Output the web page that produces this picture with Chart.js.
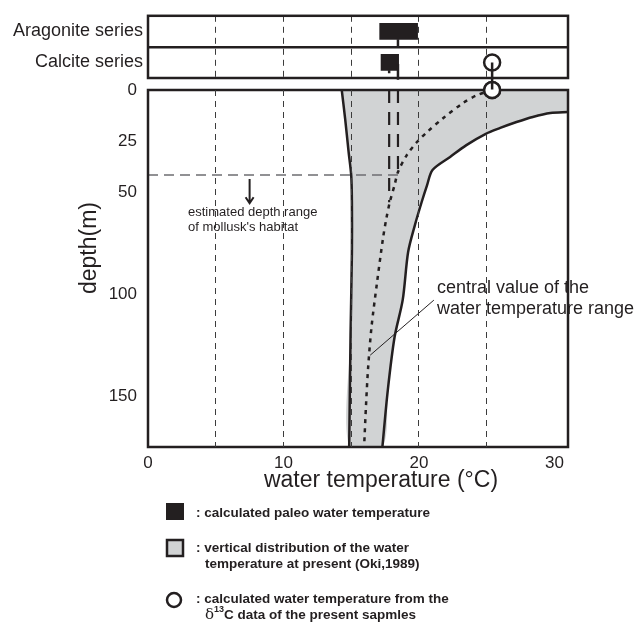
<!DOCTYPE html>
<html>
<head>
<meta charset="utf-8">
<script src="https://cdn.jsdelivr.net/npm/chart.js@4.4.1/dist/chart.umd.min.js"></script>
<style>
body { margin: 0; background: #fff; }
#wrap { position: relative; width: 640px; height: 626px; }
canvas { position: absolute; left: 0; top: 0; }
#top { z-index: 2; pointer-events: none; }
</style>
</head>
<body>
<div id="wrap">
<canvas id="main" width="640" height="626"></canvas>
<canvas id="top" width="640" height="100"></canvas>
</div>
<script>
// top panels: paleo temperature ranges
var seriesNames = ['Aragonite series', 'Calcite series'];
var panelPos = [0.5, 1.5];
var barLow = [17.1, 17.2];
var barHigh = [19.9, 18.5];
var barCenter = [18.45, 17.8];
var circleTemp = 25.4;

// present vertical distribution (Oki, 1989)
var leftTemp = [14.3, 14.55, 14.8, 15.0, 15.05, 15.05, 14.95, 14.85];
var leftDepth = [0, 14, 30, 42, 55, 80, 120, 175];
var rightTemp = [31.0, 29.7, 28.4, 27.2, 26.0, 24.9, 23.5, 22.3, 21.0, 20.6, 20.2, 19.7, 19.2, 18.8, 18.2, 17.7, 17.3];
var rightDepth = [10.8, 11.3, 13.2, 15.7, 18.6, 21.6, 27.0, 32.8, 39.2, 46.6, 54.9, 66.2, 79.4, 102.9, 121.1, 147.1, 175];
var centerTemp = [25.4, 24.3, 23.25, 21.8, 20.6, 19.85, 19.1, 18.45, 18.2, 17.85, 17.6, 17.35, 16.9, 16.5, 16.25, 16.1, 15.95];
var centerDepth = [0, 2.5, 6.4, 13.7, 20.6, 25.5, 31.9, 40.2, 46.6, 54.9, 62.7, 72.5, 94.6, 116, 135.8, 153.4, 175];

// lines from the paleo temperatures down to the habitat depth
var paleoLineDepth = [41.7, 55];
var habitatDepth = 41.7;
var habitatArrow = [7.5, 43.6, 55.5];
var leaderTemp = [16.4, 21.1];
var leaderDepth = [130, 103];

// axes
var tempTicks = [0, 5, 10, 15, 20, 25, 30];
var tempLabels = [0, 10, 20, 30];
var depthTicks = [0, 25, 50, 100, 150];

var ink = '#231f20';
var bandGrey = '#d1d3d4';
var clear = 'rgba(0,0,0,0)';
Chart.defaults.font.family = "'Liberation Sans', Arial, Helvetica, sans-serif";
Chart.defaults.color = ink;

function pts(xs, ys) {
    return xs.map(function (x, i) { return {x: x, y: ys[i]}; });
}

function lineSet(data, width, dash, color) {
    return {
        type: 'line', data: data, borderColor: color || ink, borderWidth: width,
        borderDash: dash || [], pointRadius: 0, fill: false, tension: 0
    };
}

function gridColor(c) {
    var v = c.tick ? c.tick.value : 0;
    return v > 0 && v < 30 ? '#3c3c3c' : clear;
}

var bandPts = pts(leftTemp, leftDepth)
    .concat(pts(rightTemp.slice().reverse(), rightDepth.slice().reverse()))
    .concat([{x: 31, y: 0}]);

function strokeArea(chart) {
    var a = chart.chartArea, ctx = chart.ctx;
    ctx.save();
    ctx.lineWidth = 2.5;
    ctx.strokeStyle = ink;
    ctx.strokeRect(a.left, a.top, a.right - a.left, a.bottom - a.top);
    ctx.restore();
}

var frame = {
    id: 'frame',
    beforeDatasetsDraw: function (chart) {
        if (chart.canvas.id === 'top') strokeArea(chart);
    },
    afterDatasetsDraw: function (chart) {
        if (chart.canvas.id === 'main') strokeArea(chart);
    }
};

var notes = {
    id: 'notes',
    afterDraw: function (chart) {
        var ctx = chart.ctx, xs = chart.scales.x, ys = chart.scales.y;
        // circle back on top of the grid
        chart.getDatasetMeta(0).controller.draw();
        ctx.save();
        ctx.fillStyle = ink;
        ctx.strokeStyle = ink;
        ctx.textAlign = 'left';
        ctx.textBaseline = 'alphabetic';

        ctx.font = "13px 'Liberation Sans', Arial";
        ctx.fillText('estimated depth range', 188, 216);
        ctx.fillText("of mollusk's habitat", 188, 231);

        var ax = xs.getPixelForValue(habitatArrow[0]);
        var ay1 = ys.getPixelForValue(habitatArrow[1]);
        var ay2 = ys.getPixelForValue(habitatArrow[2]);
        ctx.lineWidth = 2;
        ctx.beginPath();
        ctx.moveTo(ax, ay1); ctx.lineTo(ax, ay2);
        ctx.moveTo(ax - 4, ay2 - 6); ctx.lineTo(ax, ay2); ctx.lineTo(ax + 4, ay2 - 6);
        ctx.stroke();

        ctx.font = "18px 'Liberation Sans', Arial";
        ctx.fillText('central value of the', 437, 293);
        ctx.fillText('water temperature range', 437, 314);

        ctx.font = "23px 'Liberation Sans', Arial";
        ctx.textAlign = 'center';
        ctx.fillText('water temperature (°C)', 381, 487);
        ctx.save();
        ctx.translate(96, 248);
        ctx.rotate(-Math.PI / 2);
        ctx.fillText('depth(m)', 0, 0);
        ctx.restore();

        // legend
        ctx.textAlign = 'left';
        ctx.fillRect(166, 503, 18, 17);
        ctx.fillStyle = bandGrey;
        ctx.fillRect(167, 540, 16, 16);
        ctx.lineWidth = 2.5;
        ctx.strokeRect(167, 540, 16, 16);
        ctx.beginPath();
        ctx.arc(174, 600, 7, 0, Math.PI * 2);
        ctx.fillStyle = '#fff';
        ctx.fill();
        ctx.stroke();
        ctx.fillStyle = ink;
        ctx.font = "bold 13.5px 'Liberation Sans', Arial";
        ctx.fillText(': calculated paleo water temperature', 196, 517);
        ctx.fillText(': vertical distribution of the water', 196, 552);
        ctx.fillText('temperature at present (Oki,1989)', 205, 568);
        ctx.fillText(': calculated water temperature from the', 196, 603);
        ctx.font = "15px 'DejaVu Serif', serif";
        ctx.fillText('δ', 205, 619);
        ctx.font = "bold 9px 'Liberation Sans', Arial";
        ctx.fillText('13', 214, 612);
        ctx.font = "bold 13.5px 'Liberation Sans', Arial";
        ctx.fillText('C data of the present sapmles', 224, 619);
        ctx.restore();
    }
};

new Chart(document.getElementById('main'), {
    type: 'scatter',
    data: {
        datasets: [
            {
                type: 'scatter', data: [{x: circleTemp, y: 0}], pointRadius: 8,
                pointBackgroundColor: '#fff', pointBorderColor: ink, pointBorderWidth: 2.5, clip: false
            },
            lineSet(pts(leaderTemp, leaderDepth), 1),
            lineSet([{x: 0, y: habitatDepth}, {x: barCenter[0], y: habitatDepth}], 1.5, [10, 6], '#6d6e71'),
            lineSet([{x: barCenter[0], y: 0}, {x: barCenter[0], y: paleoLineDepth[0]}], 2.2, [13, 9]),
            lineSet([{x: barCenter[1], y: 0}, {x: barCenter[1], y: paleoLineDepth[1]}], 2.2, [13, 9]),
            Object.assign(lineSet(pts(centerTemp, centerDepth), 2.5, [4, 5]), {tension: 0.3}),
            Object.assign(lineSet(pts(leftTemp, leftDepth), 2.5), {tension: 0.3}),
            Object.assign(lineSet(pts(rightTemp, rightDepth), 2.5), {tension: 0.3}),
            Object.assign(lineSet(bandPts, 0), {fill: 'shape', backgroundColor: bandGrey, tension: 0.3})
        ]
    },
    options: {
        responsive: false,
        animation: false,
        layout: {padding: {top: 90, right: 72, bottom: 149, left: 0}},
        plugins: {legend: {display: false}, tooltip: {enabled: false}},
        scales: {
            x: {
                type: 'linear', min: 0, max: 31,
                afterBuildTicks: function (s) { s.ticks = tempTicks.map(function (v) { return {value: v}; }); },
                afterFit: function (s) { s.height = 30; },
                ticks: {
                    font: {size: 17}, padding: 6, maxRotation: 0, autoSkip: false,
                    callback: function (v) { return tempLabels.indexOf(v) >= 0 ? String(v) : ''; }
                },
                grid: {z: 1, drawTicks: false, color: gridColor, lineWidth: 1},
                border: {display: false, dash: [6, 5]}
            },
            y: {
                type: 'linear', reverse: true, min: 0, max: 175,
                afterBuildTicks: function (s) { s.ticks = depthTicks.map(function (v) { return {value: v}; }); },
                afterFit: function (s) { s.width = 148; },
                ticks: {font: {size: 17}, padding: 11, autoSkip: false},
                grid: {display: false, drawTicks: false},
                border: {display: false}
            }
        }
    },
    plugins: [frame, notes]
});

var topSets = [
    Object.assign(lineSet([{x: circleTemp, y: panelPos[1]}, {x: circleTemp, y: 2.37}], 2.5), {clip: false}),
    Object.assign(lineSet([{x: barCenter[0], y: panelPos[0] + 0.25}, {x: barCenter[0], y: 1}], 2.5), {clip: false}),
    Object.assign(lineSet([{x: barCenter[0], y: panelPos[1] + 0.05}, {x: barCenter[0], y: 2.06}], 2.5), {clip: false}),
    lineSet([{x: barCenter[1], y: panelPos[1] + 0.25}, {x: barCenter[1], y: panelPos[1] + 0.35}], 2.5),
    {
        type: 'scatter', data: [{x: circleTemp, y: panelPos[1]}], pointRadius: 8,
        pointBackgroundColor: '#fff', pointBorderColor: ink, pointBorderWidth: 2.5
    },
    {
        type: 'bar', indexAxis: 'y', barThickness: 16, backgroundColor: ink,
        data: panelPos.map(function (p, i) { return {y: p, x: [barLow[i], barHigh[i]]}; })
    }
];

new Chart(document.getElementById('top'), {
    type: 'scatter',
    data: {datasets: topSets},
    options: {
        responsive: false,
        animation: false,
        layout: {padding: {top: 14, right: 72, bottom: 22, left: 0}},
        plugins: {legend: {display: false}, tooltip: {enabled: false}},
        scales: {
            x: {
                type: 'linear', min: 0, max: 31, offset: false,
                afterBuildTicks: function (s) { s.ticks = tempTicks.map(function (v) { return {value: v}; }); },
                afterFit: function (s) { s.height = 0; },
                ticks: {display: false},
                grid: {drawTicks: false, offset: false, color: gridColor, lineWidth: 1},
                border: {display: false, dash: [6, 5]}
            },
            y: {
                type: 'linear', reverse: true, min: 0, max: 2, offset: false,
                afterBuildTicks: function (s) { s.ticks = [0, 0.5, 1, 1.5, 2].map(function (v) { return {value: v}; }); },
                afterFit: function (s) { s.width = 148; },
                ticks: {
                    font: {size: 18}, padding: 5, autoSkip: false,
                    callback: function (v) { var i = panelPos.indexOf(v); return i >= 0 ? seriesNames[i] : ''; }
                },
                grid: {
                    drawTicks: false, offset: false, lineWidth: 2.5,
                    color: function (c) { return c.tick && c.tick.value === 1 ? ink : clear; }
                },
                border: {display: false}
            }
        }
    },
    plugins: [frame]
});
</script>
</body>
</html>
